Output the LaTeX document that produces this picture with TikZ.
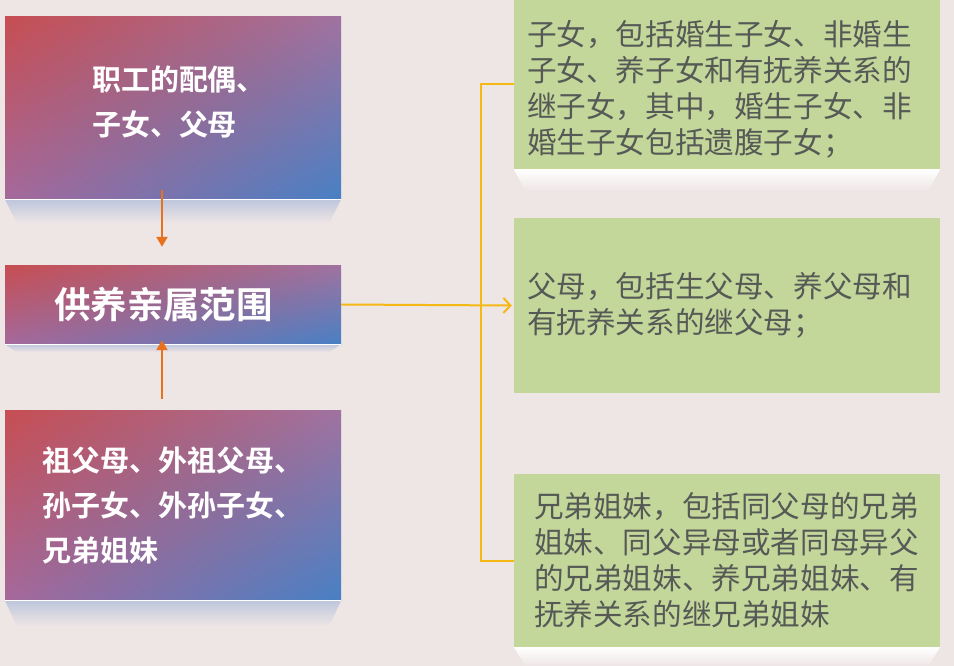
\documentclass[tikz,border=0pt]{standalone}
\usepackage{fontspec}
\newfontfamily\cjk{Noto Sans CJK SC}[BoldFont={Noto Sans CJK SC Bold}]
\usetikzlibrary{arrows.meta,shadings}

\definecolor{bgpink}{HTML}{EEE5E5}
\definecolor{boxgreen}{HTML}{C4D79B}
\definecolor{textgrey}{HTML}{565A56}
\definecolor{feedorange}{HTML}{E8711C}
\definecolor{linkgold}{HTML}{F5B915}
\definecolor{shadeblue}{HTML}{BDC6DC}
\definecolor{cornerred}{HTML}{C64E52}
\definecolor{cornerpurple}{HTML}{A072A0}
\definecolor{cornermauve}{HTML}{A5699B}
\definecolor{cornerblue}{HTML}{4880C4}

\begin{document}
\begin{tikzpicture}[x=1pt,y=-1pt,
    redbox/.style={minimum width=336pt,inner ysep=0pt,
      upper left=cornerred,upper right=cornerpurple,
      lower left=cornermauve,lower right=cornerblue,
      text=white,align=left},
    greenbox/.style={fill=boxgreen,minimum width=426pt,inner ysep=0pt,
      text=textgrey,align=left,font=\cjk\fontsize{29.6}{36}\selectfont},
    feed/.style={feedorange,line width=2.2pt,-{Triangle[length=10pt,width=11pt]}},
    link/.style={linkgold,line width=2pt}]

  \useasboundingbox (0,0) rectangle (954,666);
  \fill[bgpink] (0,0) rectangle (954,666);

  % left column
  \node[redbox,minimum height=182pt,text width=162pt,inner xsep=87pt,text depth=60pt,
    font=\cjk\bfseries\fontsize{29}{45}\selectfont] (spouse) at (173,108) {职工的配偶、\\子女、父母};
  \node[redbox,minimum height=79pt,text width=238pt,inner xsep=49pt,
    font=\cjk\bfseries\fontsize{36.5}{40}\selectfont] (range) at (173,304.5) {供养亲属范围};
  \node[redbox,minimum height=190pt,text width=262pt,inner xsep=37pt,
    font=\cjk\bfseries\fontsize{29}{45}\selectfont] (others) at (173,505) {祖父母、外祖父母、\\孙子女、外孙子女、\\兄弟姐妹};

  % right column
  \node[greenbox,minimum height=169pt,text width=400pt,inner xsep=13pt] (children) at (727,84.5)
    {\rule{0pt}{34pt}子女，包括婚生子女、非婚生\\子女、养子女和有抚养关系的\\继子女，其中，婚生子女、非\\婚生子女包括遗腹子女；};
  \node[greenbox,minimum height=174pt,text width=400pt,inner xsep=13pt] (parents) at (727,305.5)
    {父母，包括生父母、养父母和\\有抚养关系的继父母；};
  \node[greenbox,minimum height=173pt,text width=386pt,inner xsep=20pt] (siblings) at (727,560.5)
    {兄弟姐妹，包括同父母的兄弟\\姐妹、同父异母或者同母异父\\的兄弟姐妹、养兄弟姐妹、有\\抚养关系的继兄弟姐妹};

  \foreach \n/\h/\c in {spouse/24/shadeblue,range/8/shadeblue,others/26/shadeblue,
      children/22/white,siblings/19/white}{
    \shade[top color=\c,bottom color=bgpink] (\n.south west) -- (\n.south east)
      -- ([xshift=-12pt,yshift=-\h pt]\n.south east) -- ([xshift=12pt,yshift=-\h pt]\n.south west) -- cycle;
    \draw[white,line width=0.8pt] (\n.south west) -- (\n.south east);
  }

  \draw[feed] ([xshift=-11pt,yshift=9pt]spouse.south) -- ([xshift=-11pt,yshift=18pt]range.north);
  \draw[feed] ([xshift=-11pt,yshift=11pt]others.north) -- ([xshift=-11pt,yshift=4pt]range.south);

  \coordinate (branch) at ([xshift=-33pt]parents.west);
  \draw[link,-{Straight Barb[length=7pt,width=15pt]}] (range.east) -- ([xshift=-2pt]parents.west);
  \draw[link] (children.west) -| (branch) |- (siblings.west);

\end{tikzpicture}
\end{document}
